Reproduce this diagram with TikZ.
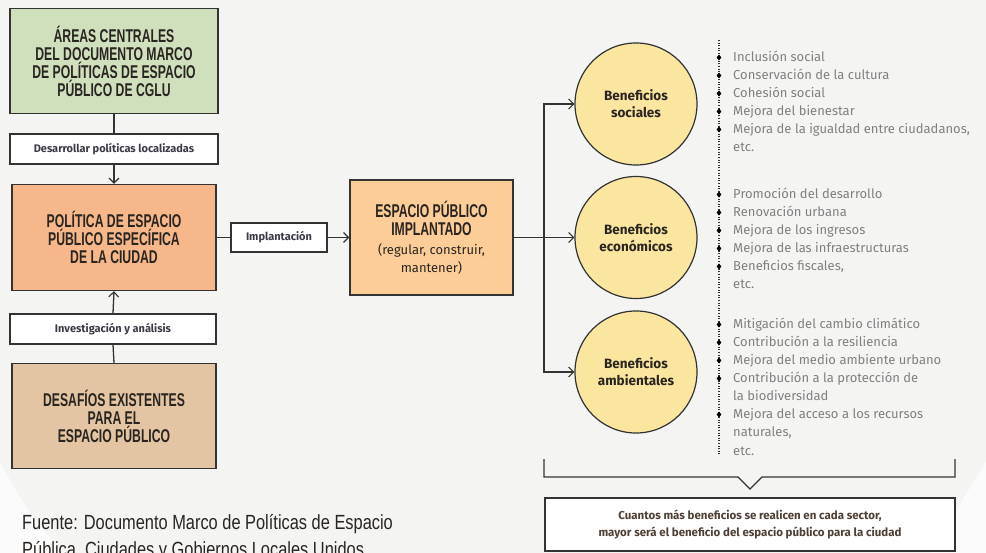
\documentclass[tikz,border=0pt]{standalone}
\usepackage{fontspec}
\setmainfont{Fira Sans}
\newfontfamily\headfont[FakeStretch=0.66]{Liberation Sans}
\newfontfamily\footfont[FakeStretch=0.8]{Liberation Sans}
\newfontfamily\bodyfont{Fira Sans}
\newcommand\smallsub{\bodyfont\mdseries\fontsize{13}{17}\selectfont}
\usetikzlibrary{arrows.meta}
\definecolor{bgc}{HTML}{F4F4F3}
\definecolor{bgw}{HTML}{FBFBFB}
\definecolor{linec}{HTML}{333333}
\definecolor{greenf}{HTML}{D0E0BD}
\definecolor{orangef}{HTML}{F6B88B}
\definecolor{brownf}{HTML}{E3C5A3}
\definecolor{espf}{HTML}{FDCD98}
\definecolor{circf}{HTML}{FBE6A0}
\definecolor{headc}{HTML}{2A2520}
\definecolor{labc}{HTML}{3C3A44}
\definecolor{listc}{HTML}{808080}
\definecolor{concc}{HTML}{4D4036}
\tikzset{
  x=1pt, y=-1pt,
  boxbase/.style={draw=linec, line width=1.4pt, align=center, inner sep=0pt},
  headbox/.style={boxbase, font=\headfont\bfseries\fontsize{18.5}{18}\selectfont, text=headc},
  labbox/.style={boxbase, fill=white, font=\bfseries\fontsize{11}{13}\selectfont, text=labc, minimum height=30pt},
  circ/.style={circle, draw=linec, line width=1.2pt, fill=circf, minimum size=122pt, align=center, inner sep=0pt,
    font=\bfseries\fontsize{13.5}{17}\selectfont, text=headc},
  conn/.style={draw=linec, line width=1.3pt},
  arr/.style={conn, -{Straight Barb[length=5pt,width=10pt,line width=1.1pt]}},
  item/.style={anchor=base west, inner sep=0pt, font=\fontsize{13}{13}\selectfont, text=listc},
  bul/.style={fill=black, diamond, inner sep=0pt, minimum width=5pt, minimum height=6pt},
  dots/.style={draw=linec, line width=1.1pt, dash pattern=on 1pt off 1.6pt},
}
\usetikzlibrary{shapes.geometric}
\begin{document}
\begin{tikzpicture}
\useasboundingbox (0,0) rectangle (986,553);
\fill[bgc] (0,0) rectangle (986,553);
\fill[bgw] (0,462) .. controls (20,500) and (40,530) .. (65,553) -- (0,553) -- cycle;
\fill[bgw] (986,462) .. controls (965,495) and (948,525) .. (930,553) -- (986,553) -- cycle;

% left column
\node[headbox, fill=greenf, minimum width=208pt, minimum height=105pt] (areas) at (114,61)
  {ÁREAS CENTRALES\\DEL DOCUMENTO MARCO\\DE POLÍTICAS DE ESPACIO\\PÚBLICO DE CGLU};
\node[labbox, minimum width=208pt] (desa) at (114,149) {Desarrollar políticas localizadas};
\node[headbox, fill=orangef, minimum width=204pt, minimum height=106pt] (pol) at (114,237.5)
  {POLÍTICA DE ESPACIO\\PÚBLICO ESPECÍFICA\\DE LA CIUDAD};
\node[labbox, minimum width=206pt] (inv) at (113,329) {Investigación y análisis};
\node[headbox, fill=brownf, minimum width=204pt, minimum height=105pt] (desf) at (114,416)
  {DESAFÍOS EXISTENTES\\PARA EL\\ESPACIO PÚBLICO};

\draw[conn] (areas.south) -- (desa.north);
\draw[arr] (desa.south) -- (pol.north);
\draw[conn] (desf.north) -- (inv.south);
\draw[arr] (inv.north) -- (pol.south);

% middle
\node[labbox, minimum width=96pt, minimum height=29pt] (impl) at (279,237.5) {Implantación};
\node[headbox, fill=espf, minimum width=163pt, minimum height=115pt] (esp) at (431.5,237.5)
  {ESPACIO PÚBLICO\\IMPLANTADO\\[1pt]\smallsub (regular, construir,\\\smallsub mantener)};
\draw[conn] (pol.east) -- (impl.west);
\draw[arr] (impl.east) -- (esp.west);

% circles
\node[circ] (soc) at (636,104) {Beneficios\\sociales};
\node[circ] (eco) at (636,237.5) {Beneficios\\económicos};
\node[circ] (amb) at (636,372) {Beneficios\\ambientales};
\coordinate (jn) at (544,237.5);
\draw[conn] (esp.east) -- (jn);
\draw[arr] (jn) |- (soc.west);
\draw[arr] (jn) -- (eco.west);
\draw[arr] (jn) |- (amb.west);

% lists
\draw[dots] (719,40) -- (719,456);
\foreach \y/\t/\b in {62/Inclusión social/1, 80/Conservación de la cultura/1, 98/Cohesión social/1,
  116/Mejora del bienestar/1, 134/{Mejora de la igualdad entre ciudadanos,}/1, 152/etc./0,
  199/Promoción del desarrollo/1, 217/Renovación urbana/1, 235/Mejora de los ingresos/1,
  253/Mejora de las infraestructuras/1, 271/{Beneficios fiscales,}/1, 289/etc./0,
  329/Mitigación del cambio climático/1, 347/Contribución a la resiliencia/1,
  365/Mejora del medio ambiente urbano/1, 383/Contribución a la protección de/1,
  401/la biodiversidad/0, 419/Mejora del acceso a los recursos/1, 437/{naturales,}/0, 455/etc./0}{
  \node[item] at (733,\y) {\t};
  \ifnum\b=1 \node[bul] at (719,\y-4.5) {};\fi
}

% bracket and conclusion
\draw[conn, line join=miter] (544,459) -- (544,477) -- (738,477) -- (750,489) -- (762,477) -- (955,477) -- (955,459);
\node[boxbase, fill=white, minimum width=410pt, minimum height=53pt, font=\bfseries\fontsize{11.5}{17}\selectfont, text=concc] (conc) at (750,524.5)
  {Cuantos más beneficios se realicen en cada sector,\\mayor será el beneficio del espacio público para la ciudad};

% source
\begin{scope}
\clip (0,0) rectangle (986,553);
\node[anchor=base west, inner sep=0pt, align=left, font=\footfont\fontsize{20.5}{27}\selectfont, text=headc] (src) at (22,556)
  {Fuente: Documento Marco de Políticas de Espacio\\Pública, Ciudades y Gobiernos Locales Unidos};
\end{scope}
\end{tikzpicture}
\end{document}
